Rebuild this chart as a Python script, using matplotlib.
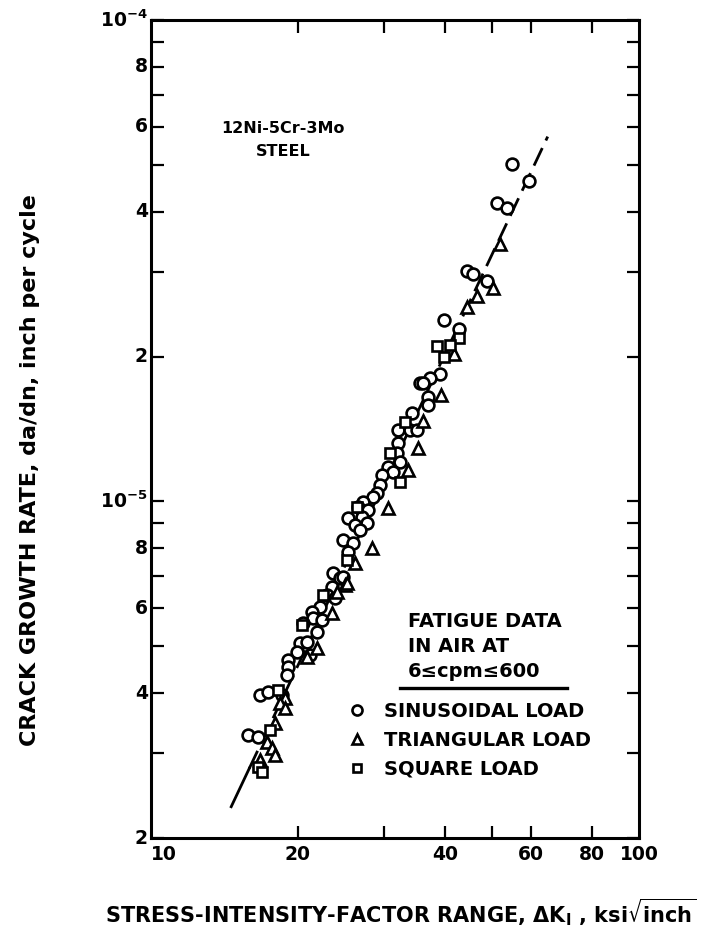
import numpy as np
import matplotlib; matplotlib.use("Agg")
import matplotlib.pyplot as plt
from matplotlib.ticker import FixedLocator, NullLocator
from matplotlib.lines import Line2D

# ΔK (ksi√in) , da/dn (1e-6 in/cycle)
sin_dk = [54.9, 59.5, 51.2, 53.6, 44.4, 45.7, 48.8, 39.9, 42.8, 39.1, 37.3, 35.6, 36.1, 37.0, 37.0,
          34.3, 32.1, 33.9, 35.1, 32.1, 31.9, 32.4, 30.6, 31.3, 29.7, 29.5, 29.05, 28.5, 27.2, 26.6,
          27.8, 25.3, 27.1, 26.2, 27.7, 26.8, 24.7, 25.9, 25.3, 23.6, 24.4, 24.7, 23.5, 22.95, 23.8,
          22.2, 21.4, 21.5, 22.4, 20.5, 21.9, 20.2, 20.9, 19.9, 21.2, 19.1, 19.1, 19.0, 16.7, 17.4,
          15.8, 16.6, 18.55]
sin_da = [50.2, 46.3, 41.7, 40.7, 30.1, 29.7, 28.7, 23.8, 22.8, 18.4, 18.05, 17.6, 17.6, 16.5, 15.9,
          15.3, 14.1, 14.1, 14.1, 13.2, 12.6, 12.1, 11.8, 11.5, 11.35, 10.8, 10.4, 10.2, 9.98, 9.74,
          9.6, 9.24, 9.29, 8.94, 9.02, 8.73, 8.32, 8.2, 7.85, 7.1, 6.94, 6.97, 6.65, 6.39, 6.3,
          6.04, 5.9, 5.73, 5.67, 5.59, 5.36, 5.08, 5.1, 4.87, 4.8, 4.69, 4.53, 4.36, 3.96, 4.02,
          3.27, 3.24, 3.96]
tri_dk = [51.9, 50.2, 46.6, 44.4, 41.8, 39.3, 36.1, 35.25, 33.6, 30.6, 28.4, 26.2, 25.0, 25.2,
          23.5, 21.9, 18.8, 18.4, 18.8, 17.95, 17.3, 17.7, 17.95, 16.7, 24.05, 20.9]
tri_da = [34.3, 27.8, 26.7, 25.35, 20.2, 16.6, 14.7, 12.9, 11.6, 9.69, 8.0, 7.45, 6.71, 6.77,
          5.87, 4.96, 3.91, 3.82, 3.72, 3.47, 3.17, 3.08, 2.98, 2.9, 6.49, 4.75]
sq_dk = [38.6, 39.85, 42.8, 41.0, 33.15, 30.9, 32.4, 25.2, 18.2, 17.5, 16.6, 16.9, 22.5, 20.4, 26.4]
sq_da = [21.0, 19.95, 21.85, 21.1, 14.6, 12.6, 11.0, 7.56, 4.06, 3.35, 2.81, 2.74, 6.39, 5.54, 9.74]

# fitted line  da/dn = C * dK^m
fit_m = 2.146
fit_c = 2.34e-6 / 14.65 ** 2.146
fit_solid = [14.6, 15.9]
fit_dash = [15.9, 65.0]

x_ticks = [20, 30, 40, 50, 60, 80]
x_labels = ["10", "20", "40", "60", "80", "100"]
x_label_pos = [10, 20, 40, 60, 80, 100]
y_ticks = [2, 3, 4, 5, 6, 7, 8, 9, 10, 20, 30, 40, 50, 60, 70, 80, 90, 100]
y_label_pos = [2, 4, 6, 8, 10, 20, 40, 60, 80, 100]
y_labels = ["2", "4", "6", "8", r"$\mathbf{10^{-5}}$", "2", "4", "6", "8", r"$\mathbf{10^{-4}}$"]

plt.rcParams['font.family'] = ['DejaVu Sans']
plt.rcParams['font.weight'] = 'bold'
plt.rcParams['mathtext.default'] = 'bf'

fig = plt.figure(figsize=(7.06, 9.43), dpi=100)
ax = fig.add_axes([151/706, 1-838/943, (639-151)/706, (838-20)/943])
ax.set_xscale('log'); ax.set_yscale('log')
ax.set_xlim(10, 100); ax.set_ylim(2e-6, 1e-4)

mk = dict(ls='none', mfc='white', mec='black', mew=1.9, ms=8.5, zorder=3)
ax.plot(sin_dk, np.array(sin_da)*1e-6, marker='o', label='SINUSOIDAL LOAD', **mk)
ax.plot(tri_dk, np.array(tri_da)*1e-6, marker='^', label='TRIANGULAR LOAD', **mk)
ax.plot(sq_dk, np.array(sq_da)*1e-6, marker='s', label='SQUARE LOAD', **dict(mk, ms=7.5))

xs = np.array(fit_solid); ax.plot(xs, fit_c*xs**fit_m, color='black', lw=2, zorder=2)
xd = np.array(fit_dash); ax.plot(xd, fit_c*xd**fit_m, color='black', lw=2, dashes=(7, 3), zorder=2)

for sp in ax.spines.values():
    sp.set_linewidth(2.2)
ax.tick_params(which='both', direction='in', top=True, right=True, length=9, width=1.6)
ax.xaxis.set_major_locator(FixedLocator(x_ticks))
ax.xaxis.set_minor_locator(NullLocator())
ax.yaxis.set_major_locator(FixedLocator([t*1e-6 for t in y_ticks]))
ax.yaxis.set_minor_locator(NullLocator())
ax.set_xticklabels([]); ax.set_yticklabels([])
for v, s in zip(x_label_pos, x_labels):
    ax.text(v, 1.93e-6, s, ha='left' if v == 10 else 'center', va='top', fontsize=13.5, fontweight='bold')
for v, s in zip(y_label_pos, y_labels):
    ax.text(9.85, v*1e-6, s, ha='right', va='center', fontsize=13.5, fontweight='bold')

ax.text(0.27, 0.853, "12Ni-5Cr-3Mo\nSTEEL", transform=ax.transAxes, ha='center', va='center',
        fontsize=11.5, fontweight='bold', linespacing=1.7)
ax.text(0.527, 0.2347, "FATIGUE DATA\nIN AIR AT\n6≤cpm≤600", transform=ax.transAxes,
        ha='left', va='center', fontsize=14, fontweight='bold', linespacing=1.4)
ax.add_line(Line2D([0.510, 0.852], [(838-688)/818]*2, transform=ax.transAxes, color='black', lw=2.4))
ax.legend(loc='upper left', bbox_to_anchor=(0.379, 0.178), frameon=False, handletextpad=0.75,
          labelspacing=0.5, borderpad=0, handlelength=1.2, markerscale=0.85,
          prop={'weight': 'bold', 'size': 14})

fig.text(401/706, 1-912/943, r"STRESS-INTENSITY-FACTOR RANGE, $\mathbf{\Delta K_I}$ , ksi$\sqrt{\mathbf{inch}}$",
         ha='center', va='center', fontsize=15, fontweight='bold')
fig.text(30/706, 1-470/943, "CRACK GROWTH RATE, da/dn, inch per cycle", rotation=90,
         ha='center', va='center', fontsize=16, fontweight='bold')

fig.savefig("out.png", dpi=100, facecolor='white')
